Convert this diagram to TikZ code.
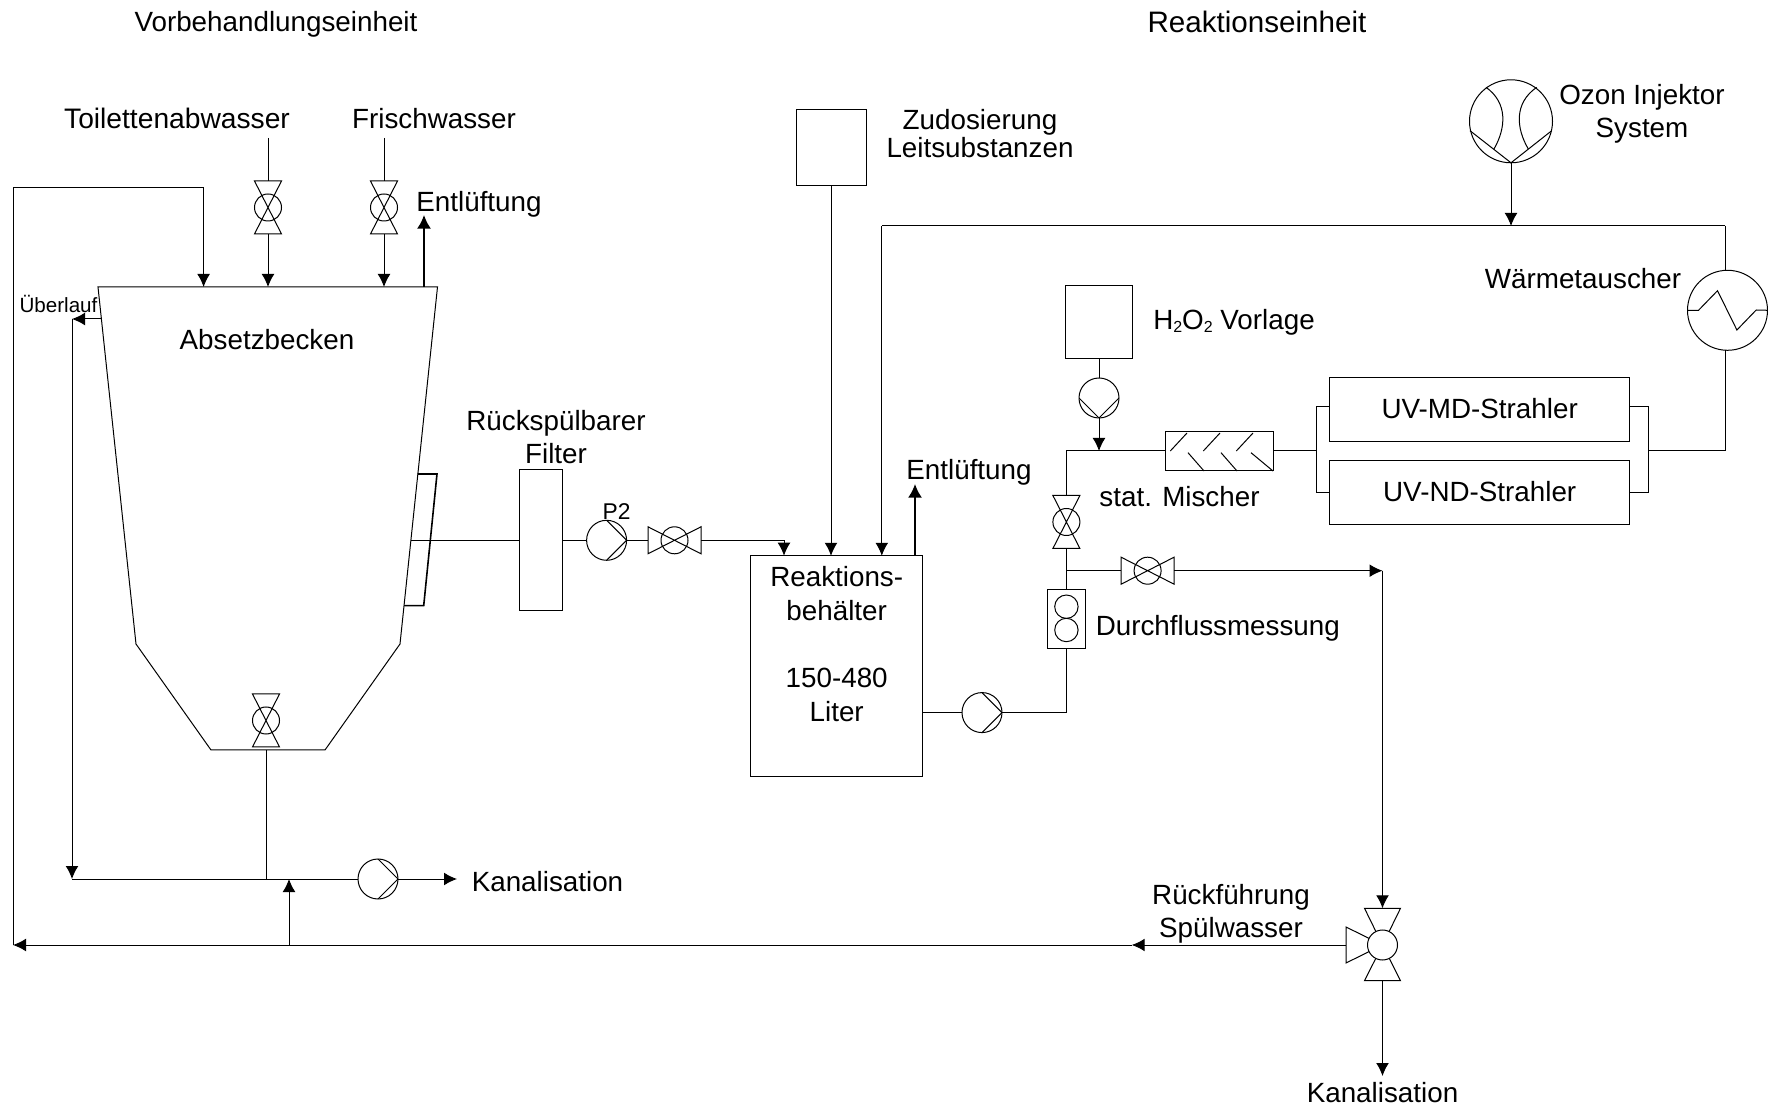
\documentclass[tikz,border=0pt]{standalone}
\usepackage{fontspec}
\setmainfont{Liberation Sans}
\usepackage{tikz}
\usetikzlibrary{arrows.meta, positioning}

\newcommand{\subzwei}{\raisebox{-1.6pt}{\fontsize{8pt}{8pt}\selectfont 2}}

\tikzset{
    flow/.style={-{Latex[length=6.5pt,width=6.4pt]}},
    vent/.style={-{Latex[length=6.8pt,width=7pt]}, line width=0.95pt},
    lbl/.style={font=\fontsize{13.9pt}{16.8pt}\selectfont, align=center, inner sep=0pt},
    box/.style={draw, rectangle, outer sep=0pt, inner sep=0pt},
    ring/.style={draw, circle, outer sep=0pt, inner sep=0pt},
    pump/.style={ring, minimum size=20pt, path picture={
        \draw (path picture bounding box.north) -- (path picture bounding box.east) -- (path picture bounding box.south);}},
    pumpdown/.style={ring, minimum size=20pt, path picture={
        \draw (path picture bounding box.west) -- (path picture bounding box.south) -- (path picture bounding box.east);}},
    valve/.pic={
        \draw (-13.5,-26.5) -- (13.5,-26.5) -- (-13.5,26.5) -- (13.5,26.5) -- cycle;
        \node[ring, minimum size=13.5pt] (-c) at (0,0) {};
        \coordinate (-a) at (0,-26.5);
        \coordinate (-b) at (0,26.5);
    },
    threeway/.pic={
        \draw (0,0) -- (-18,-36.7) -- (18,-36.7) -- cycle;
        \draw (0,0) -- (-18,35.7) -- (18,35.7) -- cycle;
        \draw (0,0) -- (-36.5,-18) -- (-36.5,18) -- cycle;
        \node[ring, fill=white, minimum size=15pt] (-c) at (0,0) {};
        \coordinate (-a) at (0,-36.7);
        \coordinate (-b) at (0,35.7);
        \coordinate (-l) at (-36.5,0);
    }
}

\begin{document}
\begin{tikzpicture}[x=0.5pt, y=-0.5pt, line width=0.5pt]
        \useasboundingbox (0,0) rectangle (1768,1106);

        % Vorbehandlung
        \coordinate (t1) at (98,287);
        \coordinate (t2) at (437.5,287);
        \coordinate (t3) at (400,644);
        \coordinate (t4) at (325,750);
        \coordinate (t5) at (211,750);
        \coordinate (t6) at (136,644);
        \draw (t1) -- (t2) -- (t3) -- (t4) -- (t5) -- (t6) -- cycle;
        \draw[line width=0.8pt] (417.5,474) -- (437,474) -- (423.7,605.7) -- (404,605.7);

        \node[lbl] (titel1) at (276,24.5) {Vorbehandlungseinheit};
        \node[lbl, font=\fontsize{14.8pt}{17pt}\selectfont] (titel2) at (1257,22) {Reaktionseinheit};
        \node[lbl, font=\fontsize{14.1pt}{17pt}\selectfont] (toilette) at (177,118.4) {Toilettenabwasser};
        \node[lbl] (frisch) at (434,118.4) {Frischwasser};
        \node[lbl] (luft1) at (479,204) {Entlüftung};
        \node[lbl] (absetz) at (267,340) {Absetzbecken};
        \node[lbl, font=\fontsize{10.3pt}{12pt}\selectfont] (ueber) at (58.5,304) {Überlauf};
        \node[lbl] (filterlbl) at (556,437) {Rückspülbarer\\Filter};
        \node[lbl, font=\fontsize{11.4pt}{13pt}\selectfont] (p2lbl) at (616.5,512) {P2};
        \node[lbl] (kanal1) at (547.5,882) {Kanalisation};

        \pic (v1) at (268,207.5) {valve};
        \pic (v2) at (384,207.5) {valve};
        \pic (v3) at (266,720.5) {valve};
        \pic[rotate=90] (v4) at (674.5,540.3) {valve};
        \node[pump] (p1) at (378,879) {};
        \node[pump] (p2) at (606.6,540.3) {};
        \node[box, minimum width=21.2pt, minimum height=70.6pt] (filter) at (541,540.3) {};

        \coordinate (top1) at (268,138);
        \coordinate (top2) at (384,138);
        \coordinate (ein) at (203.6,287);
        \coordinate (eino) at (203.6,188);
        \coordinate (aus) at (424,287);
        \coordinate (aus2) at (424,215);
        \coordinate (ue1) at (102,319);
        \coordinate (ue2) at (72,319);
        \coordinate (sam) at (72,879);
        \coordinate (ruecka) at (289,945);
        \coordinate (ecke) at (13,945);
        \coordinate (fil) at (411,540.3);
        \coordinate (kan1) at (457,879);

        \draw (top1) -- (v1-a);
        \draw[flow] (v1-b) -- (v1-b |- t1);
        \draw (top2) -- (v2-a);
        \draw[flow] (v2-b) -- (v2-b |- t1);
        \draw[vent] (aus) -- (aus2);
        \draw[flow] (ue1) -- (ue2);
        \draw[flow] (ue2) -- (sam);
        \draw (sam) -- (p1.west);
        \draw (t5 -| v3-b) -- (sam -| v3-b);
        \draw[flow] (p1.east) -- (kan1);
        \draw (fil) -- (filter.west);
        \draw (filter.east) -- (p2.west);
        \draw (p2.east) -- (v4-a);

        % Reaktion
        \node[box, minimum width=86.2pt, minimum height=110.6pt] (reaktor) at (836.7,666.4) {};
        \node[lbl] (reaktorlbl) at (836.7,644) {Reaktions-\\behälter\\[16.8pt]150-480\\Liter};
        \node[box, minimum width=35pt, minimum height=38.3pt] (dosis) at (831,147.7) {};
        \node[lbl, font=\fontsize{13.9pt}{14.1pt}\selectfont] (dosislbl) at (980,133.5) {Zudosierung\\Leitsubstanzen};
        \node[lbl] (luft2) at (969,472.5) {Entlüftung};
        \node[box, minimum width=33.3pt, minimum height=36.3pt] (hzwo) at (1099,322.3) {};
        \node[lbl] (hzwolbl) at (1234,322) {H\subzwei O\subzwei{} Vorlage};
        \node[pumpdown] (p3) at (1099,398) {};
        \node[box, minimum width=54.4pt, minimum height=19.7pt] (mischer) at (1219.4,451) {};
        \node[lbl] (mischerlbl) at (1179.5,497) {stat. Mischer};
        \node[box, minimum width=150pt, minimum height=32pt, lbl, text depth=1pt] (md) at (1479.7,409.3) {UV-MD-Strahler};
        \node[box, minimum width=150pt, minimum height=32pt, lbl, text depth=1pt] (nd) at (1479.7,492.7) {UV-ND-Strahler};
        \node[ring, minimum size=40pt] (wt) at (1727.5,310.3) {};
        \node[lbl] (wtlbl) at (1583,278.5) {Wärmetauscher};
        \node[ring, minimum size=41.5pt] (ozon) at (1511,121.3) {};
        \node[lbl] (ozonlbl) at (1642,114) {Ozon Injektor\\System};
        \node[pump] (p4) at (982,712.6) {};
        \pic (v5) at (1066.4,522) {valve};
        \pic[rotate=90] (v6) at (1147.6,570.7) {valve};
        \pic (v7) at (1382.5,945) {threeway};
        \node[box, minimum width=19.4pt, minimum height=29.5pt] (durch) at (1066.4,618.8) {};
        \node[ring, minimum size=11.7pt] (durcha) at (1066.4,606.7) {};
        \node[ring, minimum size=11.7pt] (durchb) at (1066.4,630) {};
        \node[lbl] (durchlbl) at (1217.8,628) {Durchflussmessung};
        \node[lbl] (rueckf) at (1231,914) {Rückführung\\Spülwasser};
        \node[lbl] (kanal2) at (1382.5,1093) {Kanalisation};

        % Mischer und Waermetauscher innen
        \foreach \i in {0,1,2}
            \draw ({1170.3+33*\i},451) -- ({1187+33*\i},433);
        \foreach \a/\b in {1188/1204, 1221/1237, 1251/1273}
            \draw (\a,452.7) -- (\b,471);
        \draw (wt.west) -- ++(11,0) -- ++(19,-19.6) -- ++(19.4,39.3) -- ++(19.3,-20) -- (wt.east);
        \draw (1470,130.7) -- (ozon.south) -- (1551.7,130.7);
        \draw (1486,87.3) .. controls (1508,103) and (1506,128) .. (1494,149);
        \draw (1536.7,87.3) .. controls (1514,103) and (1516,128) .. (1528.3,149);

        \coordinate (ein1) at (784,540.3);
        \coordinate (ein2) at (784,555.7);
        \coordinate (luftein) at (915,555.7);
        \coordinate (luftaus) at (915,484);
        \coordinate (oz1) at (881.8,226);
        \coordinate (oz2) at (1725,226);
        \coordinate (ozan) at (1511,226);
        \coordinate (knoten) at (1066.4,451);
        \coordinate (fuss) at (1066.4,712.6);
        \coordinate (abzw) at (1066.4,570.7);
        \coordinate (ab1) at (1382.5,570.7);
        \coordinate (li) at (1316,451);
        \coordinate (re) at (1648.8,451);
        \coordinate (li1) at (1316,406.3);
        \coordinate (li2) at (1316,492.7);
        \coordinate (re1) at (1648.8,406.3);
        \coordinate (re2) at (1648.8,492.7);
        \coordinate (wtaus) at (1725,451);
        \coordinate (mitte) at (1131.7,945);
        \coordinate (kan2) at (1382.5,1076);

        \draw (v4-b) -- (ein1);
        \draw[flow] (ein1) -- (ein2);
        \draw[flow] (dosis.south) -- (dosis.south |- reaktor.north);
        \draw (oz2) -- (wt.north -| oz2);
        \draw (oz2) -- (oz1);
        \draw[flow] (oz1) -- (oz1 |- reaktor.north);
        \draw[flow] (ozon.south) -- (ozan);
        \draw[vent] (luftein) -- (luftaus);
        \draw (reaktor.east |- p4.west) -- (p4.west);
        \draw (p4.east) -- (fuss) -- (durch.south);
        \draw (durch.north) -- (v5-b);
        \draw (v5-a) -- (knoten) -- (mischer.west);
        \draw (hzwo.south) -- (p3.north);
        \draw[flow] (p3.south) -- (p3.south |- knoten);
        \draw (mischer.east) -- (li);
        \draw (md.west |- li1) -- (li1) -- (li2) -- (nd.west |- li2);
        \draw (md.east |- re1) -- (re1) -- (re2) -- (nd.east |- re2);
        \draw (re) -- (wtaus) -- (wtaus |- wt.south);
        \draw (abzw) -- (v6-a);
        \draw[flow] (v6-b) -- (ab1);
        \draw[flow] (ab1) -- (v7-a);
        \draw[flow] (v7-b) -- (kan2);
        \draw[flow] (v7-l) -- (mitte);
        \draw[flow] (mitte) -- (ecke);
        \draw[flow] (ruecka) -- (ruecka |- sam);
        \draw[flow] (ecke) |- (eino) -- (ein);
\end{tikzpicture}
\end{document}
